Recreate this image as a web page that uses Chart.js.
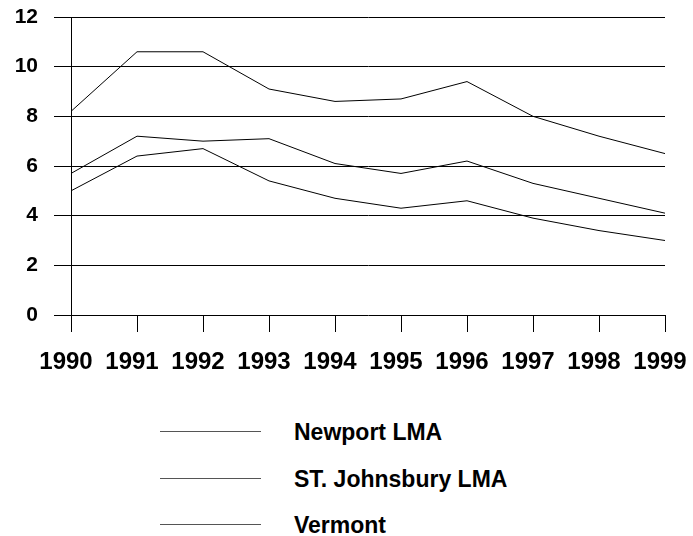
<!DOCTYPE html>
<html lang="en">
<head>
    <title>LMA chart</title>
    <script src="https://cdn.jsdelivr.net/npm/chart.js"></script>
    <style>
        body {
            margin: 0;
            background: #ffffff;
            font-family: 'Liberation Sans', Arial, sans-serif;
        }
        .wrap {
            position: relative;
            width: 693px;
            height: 536px;
        }
        .chart-box {
            position: absolute;
            left: 0;
            top: 0;
            width: 693px;
            height: 400px;
        }
        .legend-row {
            position: absolute;
            left: 160px;
            height: 24px;
        }
        .legend-line {
            position: absolute;
            left: 0;
            top: 11px;
            width: 101px;
            border-top: 1px solid #555;
        }
        .legend-text {
            position: absolute;
            left: 134px;
            top: 0;
            white-space: nowrap;
            font-size: 23px;
            font-weight: bold;
            line-height: 24px;
            color: #000;
        }
    </style>
</head>
<body>
<div class="wrap">
    <div class="chart-box"><canvas id="lineChart"></canvas></div>
    <div id="legend"></div>
</div>

<script>
    // datos
    const years = ['1990', '1991', '1992', '1993', '1994', '1995', '1996', '1997', '1998', '1999'];
    const newport = [8.2, 10.6, 10.6, 9.1, 8.6, 8.7, 9.4, 8.0, 7.2, 6.5];
    const stJohnsbury = [5.7, 7.2, 7.0, 7.1, 6.1, 5.7, 6.2, 5.3, 4.7, 4.1];
    const vermont = [5.0, 6.4, 6.7, 5.4, 4.7, 4.3, 4.6, 3.9, 3.4, 3.0];
    const seriesNames = ['Newport LMA', 'ST. Johnsbury LMA', 'Vermont'];
    const yMin = 0, yMax = 12, yStep = 2;

    const ctx = document.getElementById('lineChart').getContext('2d');
    const lineStyle = { borderColor: '#000', borderWidth: 1, pointRadius: 0, tension: 0, fill: false };

    // quitar el relleno automático de las escalas
    const noPad = (s) => {
        s.paddingTop = 0; s.paddingBottom = 0; s.paddingLeft = 0; s.paddingRight = 0;
    };

    const chart = new Chart(ctx, {
        type: 'line',
        data: {
            labels: years,
            datasets: [
                { label: seriesNames[0], data: newport, ...lineStyle },
                { label: seriesNames[1], data: stJohnsbury, ...lineStyle },
                { label: seriesNames[2], data: vermont, ...lineStyle }
            ]
        },
        options: {
            responsive: true,
            maintainAspectRatio: false,
            animation: false,
            layout: { padding: { left: 0, right: 28, top: 17, bottom: 0 } },
            plugins: {
                legend: { display: false },
                tooltip: { enabled: false }
            },
            scales: {
                x: {
                    offset: false,
                    grid: { drawOnChartArea: false, color: '#000', tickLength: 17, lineWidth: 1 },
                    border: { display: false },
                    ticks: {
                        color: '#000',
                        padding: 16,
                        labelOffset: -5,
                        maxRotation: 0,
                        autoSkip: false,
                        font: { family: 'Liberation Sans', size: 24, weight: 'bold' }
                    },
                    afterFit: (s) => { s.height = 85; noPad(s); }
                },
                y: {
                    min: yMin,
                    max: yMax,
                    grid: { color: '#000', tickLength: 17, lineWidth: 1 },
                    border: { display: true, color: '#000', width: 1 },
                    ticks: {
                        stepSize: yStep,
                        color: '#000',
                        padding: 16,
                        font: { family: 'Liberation Sans', size: 21, weight: 'bold' }
                    },
                    afterFit: (s) => { s.width = 71; noPad(s); }
                }
            }
        }
    });

    // leyenda
    const legend = document.getElementById('legend');
    const rowTops = [420, 467, 513];
    seriesNames.forEach((name, i) => {
        const row = document.createElement('div');
        row.className = 'legend-row';
        row.style.top = rowTops[i] + 'px';
        row.innerHTML = `<div class="legend-line"></div><span class="legend-text">${name}</span>`;
        legend.appendChild(row);
    });
</script>
</body>
</html>
